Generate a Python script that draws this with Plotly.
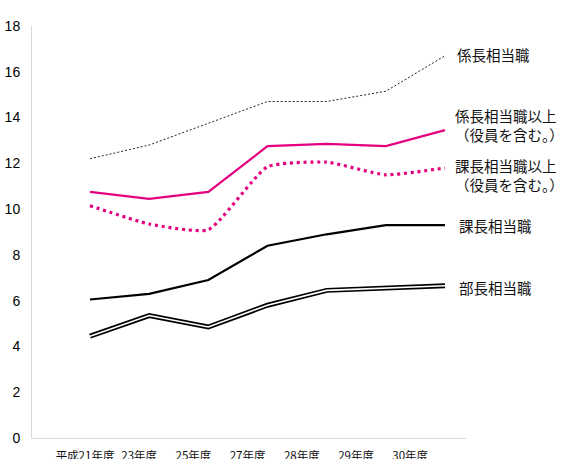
import plotly.graph_objects as go

years = ["平成21年度", "23年度", "25年度", "27年度", "28年度", "29年度", "30年度"]
kakaricho = [12.2, 12.8, 13.75, 14.7, 14.7, 15.15, 16.7]
kakaricho_up = [10.75, 10.45, 10.75, 12.75, 12.85, 12.75, 13.45]
kacho_up = [10.15, 9.35, 9.1, 11.85, 12.05, 11.5, 11.8]
kacho = [6.05, 6.3, 6.9, 8.4, 8.9, 9.3, 9.3]
bucho = [4.45, 5.35, 4.85, 5.8, 6.45, 6.55, 6.65]
yticks = [0, 2, 4, 6, 8, 10, 12, 14, 16, 18]

series_labels = ["係長相当職", "係長相当職以上<br>（役員を含む。）", "課長相当職以上<br>（役員を含む。）", "課長相当職", "部長相当職"]
label_ypx = [55, 125, 175, 226, 287]
label_xpx = [455, 453, 453, 457, 457]

PINK = "#E4007F"
W, H = 566, 459
idx = list(range(len(years)))

fig = go.Figure()
fig.add_trace(go.Scatter(x=idx, y=kakaricho, mode="lines",
                         line=dict(color="#222222", width=1, dash="2px,2px"), hoverinfo="skip"))
fig.add_trace(go.Scatter(x=idx, y=kakaricho_up, mode="lines",
                         line=dict(color=PINK, width=2.2), hoverinfo="skip"))
fig.add_trace(go.Scatter(x=idx, y=kacho_up, mode="lines",
                         line=dict(color=PINK, width=3.2, dash="3px,3.8px", shape="spline", smoothing=0.5),
                         hoverinfo="skip"))
fig.add_trace(go.Scatter(x=idx, y=kacho, mode="lines",
                         line=dict(color="black", width=2.2), hoverinfo="skip"))
fig.add_trace(go.Scatter(x=idx, y=bucho, mode="lines",
                         line=dict(color="black", width=5), hoverinfo="skip"))
fig.add_trace(go.Scatter(x=idx, y=bucho, mode="lines",
                         line=dict(color="white", width=1.6), hoverinfo="skip"))
# carrier trace for the category label axis
fig.add_trace(go.Scatter(x=idx, y=[None] * len(idx), xaxis="x2", mode="lines",
                         hoverinfo="skip", showlegend=False))

x0, x1 = 32, 466
y_top, y_bot = 26, 438
step = (445 - 90) / 6.0
xr = [(x0 - 90) / step, (x1 - 90) / step]
lstep = 54.2
xr2 = [(x0 - 85) / lstep, (x1 - 85) / lstep]

annotations = []
for txt, ypx, xpx in zip(series_labels, label_ypx, label_xpx):
    annotations.append(dict(text=txt, x=xpx / W, y=1 - ypx / H, xref="paper", yref="paper",
                            xanchor="left", yanchor="middle", align="left", showarrow=False,
                            font=dict(family="Noto Sans CJK JP", size=14.5, color="#111111")))
annotations.append(dict(text="%", x=2 / W, y=1 - 1 / H, xref="paper", yref="paper",
                        xanchor="left", yanchor="bottom", showarrow=False,
                        font=dict(family="Liberation Sans", size=13, color="black")))
annotations.append(dict(text="役職別女性管理職割合の推移", x=224 / W, y=1 - 0.5 / H, xref="paper", yref="paper",
                        xanchor="center", yanchor="bottom", showarrow=False,
                        font=dict(family="Noto Sans CJK JP", size=13, color="black")))

fig.update_layout(
    width=W, height=H, autosize=False,
    margin=dict(l=0, r=0, t=0, b=0, pad=0, autoexpand=False),
    paper_bgcolor="white", plot_bgcolor="white",
    showlegend=False,
    xaxis=dict(domain=[x0 / W, x1 / W], range=xr, showticklabels=False, showgrid=False,
               zeroline=False, showline=True, linecolor="#d9d9d9", linewidth=1, ticks="",
               automargin=False),
    xaxis2=dict(overlaying="x", anchor="y", side="bottom", range=xr2, tickvals=idx, ticktext=years,
                showgrid=False, zeroline=False, showline=False, ticks="", ticklabelstandoff=9,
                automargin=False,
                tickfont=dict(family="Noto Sans CJK JP", size=11.5, color="#111111")),
    yaxis=dict(domain=[1 - y_bot / H, 1 - y_top / H], range=[0, 18], tickvals=yticks,
               showgrid=False, zeroline=False, showline=True, linecolor="#d9d9d9", linewidth=1,
               ticks="", ticklabelstandoff=8, automargin=False,
               tickfont=dict(family="Liberation Sans", size=14, color="black")),
    annotations=annotations,
)

fig.write_html("out.html")
